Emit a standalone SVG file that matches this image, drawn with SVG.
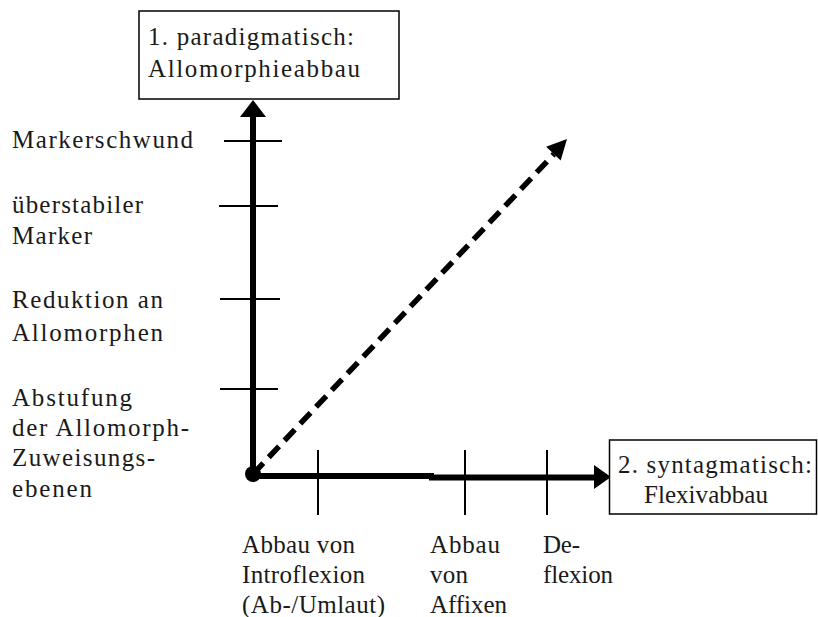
<svg xmlns="http://www.w3.org/2000/svg" width="818" height="617" viewBox="0 0 818 617">
<style>
text{font-family:"Liberation Serif","Times New Roman",serif;font-size:25px;fill:#1a1a1a}
.box{fill:#fff;stroke:#000;stroke-width:1.5}
.axis{stroke:#000;stroke-width:6;fill:none}
.tick{stroke:#000;stroke-width:2}
.dash{stroke:#000;stroke-width:5.5;stroke-dasharray:15 8;fill:none}
</style>
<rect width="818" height="617" fill="#fff"/>
<g id="connectors">
<line class="axis" x1="253" y1="474" x2="253" y2="114"/>
<polygon points="253,100 240,117 266,117"/>
<line class="axis" x1="253" y1="476" x2="434" y2="476"/>
<line class="axis" x1="429" y1="477.5" x2="595" y2="477.5"/>
<polygon points="611,477 594,465 594,489"/>
<line class="dash" x1="253" y1="474" x2="554" y2="154"/>
<polygon points="567,139 560.7,160.4 546.1,146.8"/>
<circle cx="253" cy="474" r="8"/>
<line class="tick" x1="224" y1="141" x2="282" y2="141"/>
<line class="tick" x1="219" y1="206" x2="278" y2="206"/>
<line class="tick" x1="220" y1="299" x2="280" y2="299"/>
<line class="tick" x1="220" y1="389" x2="278" y2="389"/>
<line class="tick" x1="318" y1="450" x2="318" y2="515"/>
<line class="tick" x1="465" y1="450" x2="465" y2="515"/>
<line class="tick" x1="547" y1="450" x2="547" y2="515"/>
</g>
<g id="node-paradigmatisch">
<rect class="box" x="139" y="11" width="260" height="88"/>
<text x="148" y="45" textLength="206" lengthAdjust="spacing">1. paradigmatisch:</text>
<text x="148" y="77" textLength="212" lengthAdjust="spacing">Allomorphieabbau</text>
</g>
<g id="node-syntagmatisch">
<rect class="box" x="609.5" y="440" width="207" height="74"/>
<text x="618" y="473" textLength="194" lengthAdjust="spacing">2. syntagmatisch:</text>
<text x="644" y="503" textLength="124" lengthAdjust="spacing">Flexivabbau</text>
</g>
<g id="labels-vertical">
<text x="12" y="148" textLength="181" lengthAdjust="spacing">Markerschwund</text>
<text x="12" y="213" textLength="131" lengthAdjust="spacing">überstabiler</text>
<text x="12" y="244" textLength="80" lengthAdjust="spacing">Marker</text>
<text x="12" y="308" textLength="151" lengthAdjust="spacing">Reduktion an</text>
<text x="12" y="341" textLength="151" lengthAdjust="spacing">Allomorphen</text>
<text x="12" y="406" textLength="120" lengthAdjust="spacing">Abstufung</text>
<text x="12" y="436" textLength="177" lengthAdjust="spacing">der Allomorph-</text>
<text x="12" y="466" textLength="143" lengthAdjust="spacing">Zuweisungs-</text>
<text x="12" y="497" textLength="80" lengthAdjust="spacing">ebenen</text>
</g>
<g id="labels-horizontal">
<text x="242" y="553" textLength="113" lengthAdjust="spacing">Abbau von</text>
<text x="242" y="583" textLength="123" lengthAdjust="spacing">Introflexion</text>
<text x="242" y="613" textLength="143" lengthAdjust="spacing">(Ab-/Umlaut)</text>
<text x="430" y="553" textLength="70" lengthAdjust="spacing">Abbau</text>
<text x="430" y="583" textLength="38" lengthAdjust="spacing">von</text>
<text x="430" y="613" textLength="77" lengthAdjust="spacing">Affixen</text>
<text x="543" y="553" textLength="37" lengthAdjust="spacing">De-</text>
<text x="543" y="583" textLength="70" lengthAdjust="spacing">flexion</text>
</g>
</svg>
